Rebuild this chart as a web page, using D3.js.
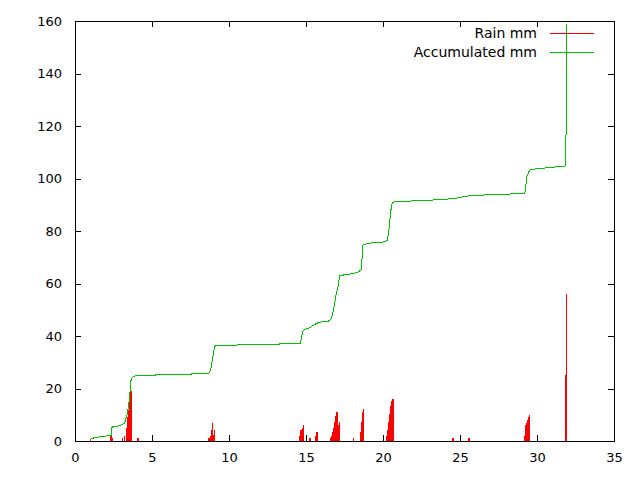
<!DOCTYPE html>
<html>
<head>
<meta charset="utf-8">
<script src="https://cdn.jsdelivr.net/npm/d3@7"></script>
<style>
  body { margin: 0; background: #fff; }
  #RAIN_CHART { width: 640px; height: 480px; }
  .tick text { font-family: "DejaVu Sans", sans-serif; font-size: 13px; fill: #000; }
  .key_text { font-family: "DejaVu Sans", sans-serif; font-size: 14px; fill: #000; }
</style>
</head>
<body>
<div id="RAIN_CHART"></div>
<script>
// rain per reading (mm), x = day
const rain_day = [1.02, 2.35, 2.40, 3.10, 3.23, 3.36, 3.44, 3.49, 3.53, 3.57, 3.62, 3.66, 4.09,
                  8.71, 8.80, 8.86, 8.92, 8.99, 9.07,
                  14.61, 14.68, 14.76, 14.85, 15.26, 15.65, 15.71,
                  16.62, 16.68, 16.74, 16.81, 16.87, 16.94, 17.00, 17.06, 17.13, 17.19,
                  18.08, 18.55, 18.61, 18.68, 18.74,
                  20.22, 20.29, 20.35, 20.42, 20.48, 20.55, 20.61, 20.65,
                  24.55, 25.58,
                  29.20, 29.26, 29.32, 29.38, 29.44, 29.50, 31.86, 31.93];
const rain_mm = [0.9, 2.0, 1.0, 1.2, 1.8, 5.0, 9.3, 12.0, 14.5, 16.9, 19.2, 19.2, 1.0,
                 1.0, 2.0, 4.2, 7.0, 2.3, 4.2,
                 2.0, 4.3, 5.1, 6.2, 1.1, 2.0, 3.3,
                 1.1, 2.0, 3.3, 5.0, 7.1, 9.7, 11.2, 2.0, 6.2, 7.1,
                 1.3, 3.3, 7.1, 11.2, 12.3,
                 2.0, 4.3, 7.1, 10.1, 13.2, 15.1, 16.1, 16.1,
                 1.1, 1.1,
                 1.9, 6.1, 6.7, 8.0, 9.0, 9.9, 25.1, 56.0];

// accumulated total (mm)
const acc_day = [1.02, 1.40, 2.04, 2.36, 2.40, 2.51, 2.80, 3.12, 3.23, 3.34, 3.40, 3.49, 3.55, 3.60,
                 3.64, 3.70, 3.88, 4.05, 5.22, 5.26, 7.56, 7.60, 8.70, 8.79, 8.86, 8.92, 8.99,
                 9.07, 9.11, 10.48, 10.52, 13.23, 13.27, 14.63, 14.70, 14.79, 14.92, 15.24,
                 15.40, 15.68, 15.92, 16.43, 16.60, 16.71, 16.86, 16.97, 17.08, 17.19, 17.50,
                 18.15, 18.43, 18.58, 18.65, 18.70, 19.00, 19.57, 20.00, 20.28, 20.37, 20.45,
                 20.54, 20.61, 21.30, 22.60, 23.90, 24.65, 25.09, 25.46, 26.50, 28.27, 29.20,
                 29.26, 29.35, 29.52, 29.91, 30.70, 31.87, 31.90, 31.93];
const acc_mm = [0.9, 1.4, 1.9, 2.2, 5.2, 5.7, 5.7, 6.4, 6.9, 9.2, 10.5, 14.3, 16.8, 21.3,
                23.2, 24.1, 24.7, 25.0, 25.0, 25.4, 25.4, 25.8, 25.8, 27.1, 28.4, 30.9, 33.5,
                35.8, 36.2, 36.2, 36.6, 36.6, 37.0, 37.0, 39.3, 41.8, 42.5, 43.1,
                43.8, 44.8, 45.3, 45.6, 46.2, 47.9, 52.3, 56.2, 58.8, 63.0, 63.3,
                63.9, 64.5, 65.2, 70.2, 74.7, 75.3, 75.6, 75.8, 76.3, 79.8, 84.2,
                89.3, 91.0, 91.3, 91.6, 92.0, 92.4, 92.9, 93.3, 93.7, 94.1, 94.2,
                96.4, 100.9, 103.2, 103.7, 104.1, 104.8, 129.0, 159.0];

const x_ticks = [0, 5, 10, 15, 20, 25, 30, 35];
const y_ticks = [0, 20, 40, 60, 80, 100, 120, 140, 160];
const key_labels = ["Rain mm", "Accumulated mm"];
const key_colors = ["#ff0000", "#00c000"];

class rainChart {
    constructor() {
        this.div_ = d3.select("#RAIN_CHART");
        this.svg = this.div_.append("svg").attr("width", 640).attr("height", 480);

        // plot box
        this.box = {"x0": 75, "x1": 614, "y0": 21, "y1": 441};
        this.tick_len = 6;

        this.x = d3.scaleLinear().domain([0, 35]).range([this.box.x0, this.box.x1]);
        this.y = d3.scaleLinear().domain([0, 160]).range([this.box.y1, this.box.y0]);

        this.key = {"text_x": 537, "line_x0": 550, "line_x1": 594, "y0": 33, "dy": 19};

        this.paint();
    }

    paint() {
        let this_ = this;
        let box = this_.box;

        // axes, ticks pointing inward, mirrored on top and right
        this_.svg.append("g").attr("transform", `translate(0,${box.y1})`)
            .call(d3.axisBottom(this_.x).tickValues(x_ticks).tickSize(-this_.tick_len).tickPadding(12));
        this_.svg.append("g").attr("transform", `translate(${box.x0},0)`)
            .call(d3.axisLeft(this_.y).tickValues(y_ticks).tickSize(-this_.tick_len).tickPadding(13));
        this_.svg.append("g").attr("transform", `translate(0,${box.y0})`)
            .call(d3.axisTop(this_.x).tickValues(x_ticks).tickSize(-this_.tick_len).tickFormat(""));
        this_.svg.append("g").attr("transform", `translate(${box.x1},0)`)
            .call(d3.axisRight(this_.y).tickValues(y_ticks).tickSize(-this_.tick_len).tickFormat(""));
        this_.svg.selectAll(".domain").remove();
        this_.svg.selectAll(".tick line").attr("stroke", "#000").attr("shape-rendering", "crispEdges");

        this_.svg.append("rect")
            .attr("x", box.x0).attr("y", box.y0)
            .attr("width", box.x1 - box.x0).attr("height", box.y1 - box.y0)
            .attr("fill", "none").attr("stroke", "#000")
            .attr("shape-rendering", "crispEdges");

        // rain impulses
        let rain = rain_day.map((d, i) => [d, rain_mm[i]]);
        this_.svg.append("g").selectAll("line").data(rain).join("line")
            .attr("x1", d => this_.x(d[0])).attr("x2", d => this_.x(d[0]))
            .attr("y1", this_.y(0)).attr("y2", d => this_.y(d[1]))
            .attr("stroke", key_colors[0]).attr("stroke-width", 1.4)
            .attr("shape-rendering", "crispEdges");

        // accumulated line
        let acc = acc_day.map((d, i) => [d, acc_mm[i]]);
        this_.svg.append("path").datum(acc)
            .attr("d", d3.line().x(d => this_.x(d[0])).y(d => this_.y(d[1])))
            .attr("fill", "none").attr("stroke", key_colors[1]).attr("stroke-width", 1)
            .attr("shape-rendering", "crispEdges");

        // key
        let key = this_.key;
        key_labels.forEach(function (lab, i) {
            let yy = key.y0 + i * key.dy;
            this_.svg.append("text").attr("class", "key_text")
                .attr("x", key.text_x).attr("y", yy).attr("dy", "0.35em")
                .attr("text-anchor", "end").text(lab);
            this_.svg.append("line")
                .attr("x1", key.line_x0).attr("x2", key.line_x1)
                .attr("y1", yy).attr("y2", yy)
                .attr("stroke", key_colors[i]).attr("shape-rendering", "crispEdges");
        });
    }
}

new rainChart();
</script>
</body>
</html>
